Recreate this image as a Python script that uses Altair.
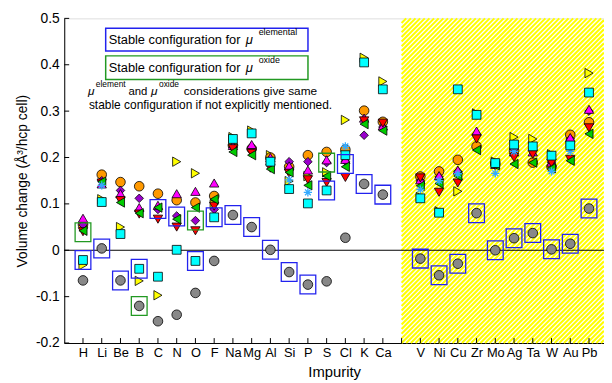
import json
import altair as alt
import pandas as pd

# ---------------- data ----------------
elements = ["H", "Li", "Be", "B", "C", "N", "O", "F", "Na", "Mg", "Al", "Si", "P", "S",
            "Cl", "K", "Ca", "V", "Ni", "Cu", "Zr", "Mo", "Ag", "Ta", "W", "Au", "Pb"]
positions = list(range(1, 18)) + list(range(19, 29))

gray = [-0.065, 0.004, -0.065, -0.120, -0.153, -0.139, -0.092, -0.023, 0.076, 0.050, 0.001,
        -0.047, -0.074, -0.067, 0.027, 0.143, 0.120, -0.018, -0.054, -0.029, 0.080, 0.000,
        0.026, 0.037, 0.002, 0.014, 0.090]
cyan = [-0.021, 0.104, 0.035, -0.040, -0.057, 0.001, -0.023, 0.071, 0.240, 0.252, 0.191,
        0.132, 0.101, 0.129, 0.205, 0.405, 0.347, 0.112, 0.081, 0.347, 0.292, 0.188,
        0.228, 0.224, 0.204, 0.226, 0.340]
orange = [0.055, 0.163, 0.147, 0.138, 0.122, 0.108, 0.103, 0.117, 0.226, 0.219, 0.200,
          0.180, 0.205, 0.212, 0.217, 0.301, 0.277, 0.159, 0.170, 0.195, 0.224, 0.186,
          0.215, 0.189, 0.180, 0.249, 0.276]
magenta = [0.069, 0.143, 0.122, 0.092, 0.097, 0.122, 0.127, 0.145, 0.226, 0.228, 0.200,
           0.182, 0.173, 0.195, 0.196, 0.285, 0.268, 0.152, 0.161, 0.173, 0.257, 0.185,
           0.212, 0.212, 0.190, 0.243, 0.304]
red = [0.040, 0.145, 0.107, 0.078, 0.067, 0.050, 0.042, 0.095, 0.219, 0.209, 0.177,
       0.166, 0.152, 0.146, 0.157, 0.279, 0.274, 0.156, 0.125, 0.145, 0.240, 0.182,
       0.200, 0.207, 0.188, 0.196, 0.264]
green = [0.042, 0.148, 0.103, 0.080, 0.092, 0.067, 0.092, 0.110, 0.212, 0.205, 0.175,
         0.168, 0.140, 0.160, 0.180, 0.272, 0.258, 0.139, 0.144, 0.160, 0.216, 0.183,
         0.186, 0.189, 0.177, 0.193, 0.251]
purple = [0.055, 0.150, 0.129, 0.112, 0.088, 0.074, 0.064, 0.088, 0.222, 0.222, 0.195,
          0.191, 0.191, 0.189, 0.192, 0.248, 0.266, 0.150, 0.158, 0.170, 0.250, 0.186,
          0.218, 0.218, 0.190, 0.240, 0.300]
yellow = [-0.032, 0.110, 0.050, -0.066, -0.097, 0.191, 0.166, 0.099, 0.244, 0.258, 0.205,
          0.149, 0.160, 0.168, 0.281, 0.415, 0.364, 0.115, 0.084, 0.127, 0.295, 0.191,
          0.244, 0.240, 0.207, 0.230, 0.382]
star = [None, 0.140, None, None, None, None, None, None, None, None, None,
        0.152, 0.125, 0.128, 0.224, None, None, 0.131, 0.150, 0.165, None, 0.166,
        0.213, None, 0.170, 0.213, None]

box_elemental = [-0.021, 0.004, -0.065, -0.040, 0.089, 0.073, -0.023, 0.071, 0.076, 0.050,
                 0.001, -0.047, -0.074, 0.129, 0.186, 0.143, 0.120, -0.018, -0.054, -0.029,
                 0.080, 0.000, 0.026, 0.037, 0.002, 0.014, 0.090]
box_oxide = [0.039, None, None, -0.120, None, None, 0.064, None, None, None, None,
             None, None, 0.189, None, None, None, None, None, None, None, None,
             None, None, None, None, None]

y_ticks = [-0.2, -0.1, 0.0, 0.1, 0.2, 0.3, 0.4, 0.5]
x_ticks = list(range(1, 29))
hatch_start = 18

# ---------------- geometry ----------------
W, H = 547, 329
XMAX = 28.8
YMIN, YMAX = -0.2, 0.5
FONT = "Liberation Sans"

xscale = alt.Scale(domain=[0, XMAX], nice=False, zero=False)
yscale = alt.Scale(domain=[YMIN, YMAX], nice=False, zero=False)

label_list = [""] * 30
for e, p in zip(elements, positions):
    label_list[p] = e
x_label_expr = json.dumps(label_list) + "[datum.value]"
y_label_expr = "datum.value == 0 ? '0' : (datum.value < 0 ? '-' : '') + format(abs(datum.value), '.1f')"

x_axis = alt.Axis(values=positions, labelExpr=x_label_expr, ticks=False, grid=False,
                  title="Impurity", labelFontSize=13, labelPadding=4, titleFontSize=15,
                  titleFontWeight="normal", titlePadding=5, domainColor="black",
                  labelColor="black", titleColor="black", labelFont=FONT, titleFont=FONT)
y_axis = alt.Axis(values=y_ticks, labelExpr=y_label_expr, ticks=False, grid=False,
                  title="Volume change (Å³/hcp cell)", labelFontSize=14, labelPadding=5,
                  titleFontSize=14, titleFontWeight="normal", titlePadding=6,
                  domainColor="black", labelColor="black", titleColor="black",
                  labelFont=FONT, titleFont=FONT)


def XF(f):
    return alt.X(f"{f}:Q", scale=xscale, axis=x_axis, title="Impurity")


def YF(f):
    return alt.Y(f"{f}:Q", scale=yscale, axis=y_axis, title="Volume change (Å³/hcp cell)")


def series_df(vals):
    rows = [{"pos": p, "el": e, "v": v} for p, e, v in zip(positions, elements, vals) if v is not None]
    return pd.DataFrame(rows)


# hatch stripes (decorative background pattern)
px_per_x = W / XMAX
py_per_y = H / (YMAX - YMIN)
u0, u1 = hatch_start * px_per_x, W
period = 4.7
rows = []
c = u0 - H
while c < u1:
    us, ue = max(u0, c), min(u1, c + H)
    if ue > us:
        rows.append({"pos": us / px_per_x, "v": YMIN + (us - c) / py_per_y,
                     "pos2": ue / px_per_x, "v2": YMIN + (ue - c) / py_per_y})
    c += period
hatch = alt.Chart(pd.DataFrame(rows)).mark_rule(color="#FFFF00", strokeWidth=2.1).encode(
    x=XF("pos"), x2="pos2:Q", y=YF("v"), y2="v2:Q")

zero = alt.Chart(pd.DataFrame({"v": [0.0]})).mark_rule(color="black", strokeWidth=1).encode(y=YF("v"))

ytk = alt.Chart(pd.DataFrame({"v": y_ticks})).mark_rule(color="black").encode(
    y=YF("v"), x=alt.value(0), x2=alt.value(5))
xtk = alt.Chart(pd.DataFrame({"pos": x_ticks})).mark_rule(color="black").encode(
    x=XF("pos"), y=alt.value(H), y2=alt.value(H - 5))


def pts(vals, shape, fill, size, filled=True):
    if filled:
        kw = dict(shape=shape, filled=True, fill=fill, stroke="black",
                  strokeWidth=0.8, size=size, opacity=1)
    else:
        kw = dict(shape=shape, filled=False, stroke=fill, strokeWidth=1.3, size=size, opacity=1)
    return alt.Chart(series_df(vals)).mark_point(**kw).encode(x=XF("pos"), y=YF("v"))


STAR = "M-1,0H1M0,-1V1M-0.7,-0.7L0.7,0.7M-0.7,0.7L0.7,-0.7"
BOX = "M-0.84,-1H0.84V1H-0.84Z"

layers = [
    hatch,
    zero,
    pts(yellow, "triangle-right", "#FFFF00", 90),
    pts(orange, "circle", "#FF9900", 95),
    pts(purple, "diamond", "#9900CC", 75),
    pts(magenta, "triangle-up", "#FF00FF", 90),
    pts(red, "triangle-down", "#FF0000", 90),
    pts(green, "triangle-left", "#00CC00", 90),
    pts(star, STAR, "#33AAFF", 70, filled=False),
    pts(cyan, "square", "#00FFFF", 80),
    pts(gray, "circle", "#888888", 95),
    pts(box_elemental, BOX, "#2222EE", 361, filled=False),
    pts(box_oxide, BOX, "#229922", 361, filled=False),
    ytk, xtk,
]

# legend / annotation
one = pd.DataFrame({"a": [0]})


def rect(x1, x2, y1, y2, color):
    return alt.Chart(one).mark_rect(filled=False, stroke=color, strokeWidth=1.5).encode(
        x=alt.value(x1), x2=alt.value(x2), y=alt.value(y1), y2=alt.value(y2))


def txt(s, x, y, size, italic=False):
    return alt.Chart(one).mark_text(text=s, align="left", baseline="alphabetic", font=FONT,
                                    fontSize=size, color="black",
                                    fontStyle="italic" if italic else "normal").encode(
        x=alt.value(x), y=alt.value(y))


layers += [
    rect(42, 247, 10, 33, "#2222EE"),
    rect(42, 247, 38, 62, "#229922"),
    txt("Stable configuration for", 45, 26, 13),
    txt("μ", 184, 26, 13.2, True),
    txt("elemental", 197, 17, 9),
    txt("Stable configuration for", 45, 54, 13),
    txt("μ", 184, 54, 13.2, True),
    txt("oxide", 197, 45, 9),
    txt("μ", 24, 78, 12, True),
    txt("element", 32, 70, 8.5),
    txt("and", 65, 78, 11.5),
    txt("μ", 88, 78, 12, True),
    txt("oxide", 96, 70, 8.5),
    txt("considerations give same", 121, 78, 12),
    txt("stable configuration if not explicitly mentioned.", 25, 92, 12.1),
]

chart = alt.layer(*layers).properties(
    width=W, height=H,
    autosize=alt.AutoSizeParams(type="none"),
    padding={"left": 57, "top": 8, "right": 0, "bottom": 38},
).configure_view(stroke="black", strokeWidth=1).configure(font=FONT)

chart.save("out.html", embed_options={"renderer": "svg", "actions": False})
